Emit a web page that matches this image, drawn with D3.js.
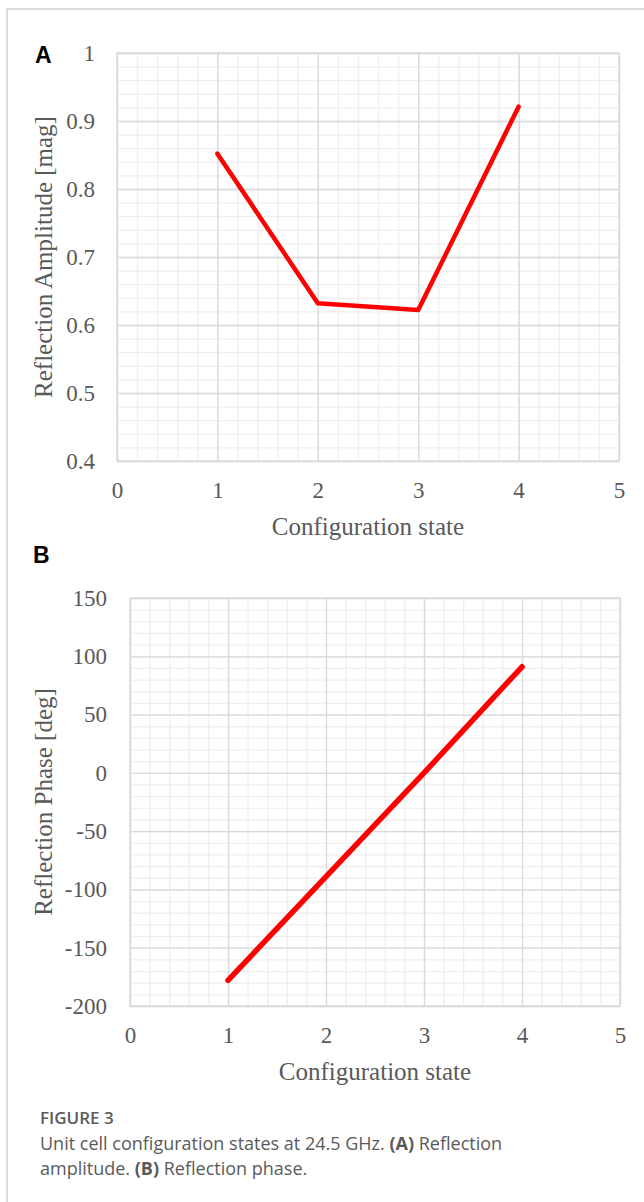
<!DOCTYPE html>
<html>
<head>
<meta charset="utf-8">
<script src="https://cdn.jsdelivr.net/npm/d3@7"></script>
<style>
	body { margin: 0; background: #fff; }
	svg { display: block; }
</style>
</head>
<body>
<div class="chart"></div>
<script>
// configuration states on x axis
const states = [1, 2, 3, 4];
// panel A: reflection amplitude [mag]
const amplitude = [0.852, 0.632, 0.622, 0.921];
// panel B: reflection phase [deg]
const phase = [-178, -89, 0, 91];

const xTicks = [0, 1, 2, 3, 4, 5];
const ampTicks = [0.4, 0.5, 0.6, 0.7, 0.8, 0.9, 1];
const phaseTicks = [-200, -150, -100, -50, 0, 50, 100, 150];

const fullWidth = 644;
const fullHeight = 1202;

const serif = 'Liberation Serif, Times New Roman, serif';
const textColor = '#595959';

const svg = d3.select('.chart')
	.append('svg')
		.attr('width', fullWidth)
		.attr('height', fullHeight);

// outer frame (top + left edge only visible)
svg.append('path')
	.attr('d', `M7,${fullHeight} L7,9 L${fullWidth},9`)
	.attr('fill', 'none')
	.attr('stroke', '#d0d0d0')
	.attr('stroke-width', 1.5);

function drawPanel(opts) {
	const m = opts.margin;
	const width = opts.right - m.left;
	const height = opts.bottom - m.top;

	const g = svg.append('g')
		.attr('transform', `translate(${m.left}, ${m.top})`);

	const xScale = d3.scaleLinear()
		.domain([0, 5])
		.range([0, width]);

	const yScale = d3.scaleLinear()
		.domain(d3.extent(opts.yTicks))
		.range([height, 0]); // y goes in reverse in svg

	// minor grid
	g.append('g')
		.call(d3.axisLeft(yScale).ticks(opts.minorY).tickSize(-width).tickFormat(''))
		.call(a => a.select('.domain').remove())
		.selectAll('line').attr('stroke', '#efefef').attr('stroke-width', 1.3);
	g.append('g')
		.attr('transform', `translate(0, ${height})`)
		.call(d3.axisBottom(xScale).ticks(25).tickSize(-height).tickFormat(''))
		.call(a => a.select('.domain').remove())
		.selectAll('line').attr('stroke', '#efefef').attr('stroke-width', 1.3);

	// major grid
	g.append('g')
		.call(d3.axisLeft(yScale).tickValues(opts.yTicks).tickSize(-width).tickFormat(''))
		.call(a => a.select('.domain').remove())
		.selectAll('line').attr('stroke', '#d9d9d9').attr('stroke-width', 1.3);
	g.append('g')
		.attr('transform', `translate(0, ${height})`)
		.call(d3.axisBottom(xScale).tickValues(xTicks).tickSize(-height).tickFormat(''))
		.call(a => a.select('.domain').remove())
		.selectAll('line').attr('stroke', '#d9d9d9').attr('stroke-width', 1.3);

	// plot border
	g.append('rect')
		.attr('width', width)
		.attr('height', height)
		.attr('fill', 'none')
		.attr('stroke', '#d9d9d9')
		.attr('stroke-width', 1.3);

	// tick labels
	const yAxis = g.append('g')
		.call(d3.axisLeft(yScale).tickValues(opts.yTicks).tickSize(0).tickPadding(opts.yPad).tickFormat(d => d));
	const xAxis = g.append('g')
		.attr('transform', `translate(0, ${height})`)
		.call(d3.axisBottom(xScale).tickValues(xTicks).tickSize(0).tickPadding(21).tickFormat(d => d));
	[yAxis, xAxis].forEach(a => {
		a.select('.domain').remove();
		a.selectAll('text')
			.attr('fill', textColor)
			.style('font-family', serif)
			.style('font-size', '23px');
	});

	// axis titles
	g.append('text')
		.attr('x', width / 2)
		.attr('y', height + 74)
		.attr('text-anchor', 'middle')
		.attr('fill', textColor)
		.style('font-family', serif)
		.style('font-size', '25px')
		.text('Configuration state');

	g.append('text')
		.attr('transform', `translate(${52 - m.left}, ${height / 2}) rotate(-90)`)
		.attr('text-anchor', 'middle')
		.attr('fill', textColor)
		.style('font-family', serif)
		.style('font-size', '25px')
		.text(opts.yTitle);

	// data line
	const line = d3.line()
		.x((d, i) => xScale(states[i]))
		.y(d => yScale(d));

	g.append('path')
		.datum(opts.values)
		.attr('d', line)
		.attr('fill', 'none')
		.attr('stroke', '#ff0000')
		.attr('stroke-width', opts.lineWidth)
		.attr('stroke-linecap', 'round')
		.attr('stroke-linejoin', 'round');

	// panel letter
	svg.append('text')
		.attr('x', opts.letterX)
		.attr('y', opts.letterY)
		.attr('fill', '#000')
		.style('font-family', 'Liberation Sans, Arial, sans-serif')
		.style('font-weight', 'bold')
		.style('font-size', '23px')
		.text(opts.letter);
}

drawPanel({
	margin: {top: 53, left: 117},
	right: 619,
	bottom: 461,
	yTicks: ampTicks,
	minorY: 30,
	yPad: 22,
	values: amplitude,
	lineWidth: 4.5,
	yTitle: 'Reflection Amplitude [mag]',
	letter: 'A', letterX: 35, letterY: 63
});

drawPanel({
	margin: {top: 598, left: 130},
	right: 620,
	bottom: 1006,
	yTicks: phaseTicks,
	minorY: 35,
	yPad: 23,
	values: phase,
	lineWidth: 5.5,
	yTitle: 'Reflection Phase [deg]',
	letter: 'B', letterX: 33, letterY: 563
});

// caption
const sans = 'Open Sans, Noto Sans, sans-serif';
svg.append('text')
	.attr('x', 40)
	.attr('y', 1124)
	.attr('fill', '#5a5a5a')
	.style('font-family', sans)
	.style('font-weight', 600)
	.style('font-size', '17px')
	.text('FIGURE 3');

const captionLines = [
	[['Unit cell configuration states at 24.5 GHz. ', false], ['(A)', true], [' Reflection', false]],
	[['amplitude. ', false], ['(B)', true], [' Reflection phase.', false]]
];
captionLines.forEach((parts, i) => {
	const t = svg.append('text')
		.attr('x', 40)
		.attr('y', 1150 + i * 25)
		.attr('fill', '#5a5a5a')
		.style('font-family', sans)
		.style('font-size', '18px');
	parts.forEach(p => {
		t.append('tspan')
			.style('font-weight', p[1] ? 700 : 400)
			.text(p[0]);
	});
});
</script>
</body>
</html>
